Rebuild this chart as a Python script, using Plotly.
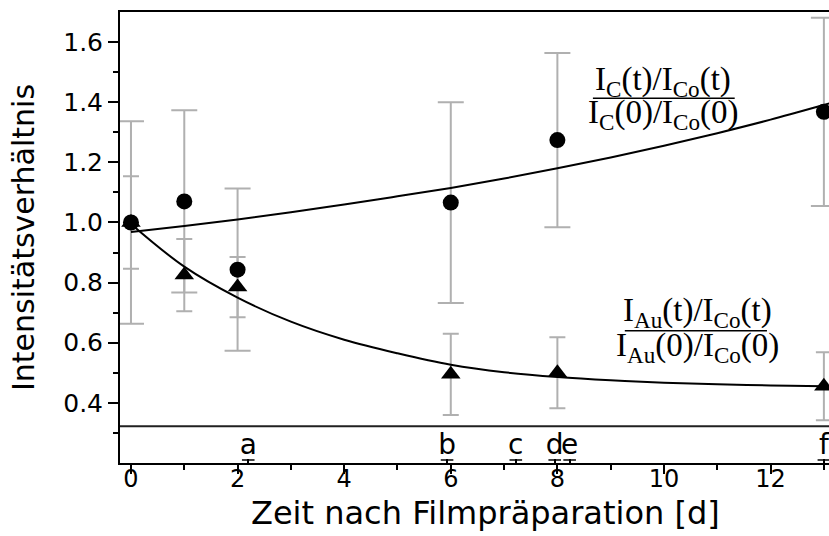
import plotly.graph_objects as go

# Measured intensity ratios (days after film preparation)
days = [0, 1, 2, 6, 8, 13]
ratio_c = [1.00, 1.07, 0.843, 1.066, 1.274, 1.368]
err_c = [0.337, 0.303, 0.27, 0.334, 0.29, 0.313]
ratio_au = [1.00, 0.825, 0.785, 0.495, 0.50, 0.455]
err_au = [0.154, 0.12, 0.10, 0.135, 0.118, 0.113]

# Fitted curves
fit_days = [0, 1, 2, 3, 4, 5, 6, 7, 8, 9, 10, 11, 12, 13, 13.1]
fit_c = [0.968, 0.988, 1.010, 1.034, 1.060, 1.087, 1.115, 1.146, 1.180,
         1.216, 1.255, 1.297, 1.342, 1.391, 1.396]
fit_au = [0.995, 0.853, 0.750, 0.670, 0.610, 0.565, 0.527, 0.502, 0.486,
          0.475, 0.467, 0.462, 0.458, 0.455, 0.455]

# Sample markers along the time axis
sample_days = [2.2, 5.93, 7.22, 7.95, 8.23, 13.0]
sample_labels = ["a", "b", "c", "d", "e", "f"]

x_ticks = [0, 2, 4, 6, 8, 10, 12]
y_ticks = [0.4, 0.6, 0.8, 1.0, 1.2, 1.4, 1.6]
x_range = [-0.206, 13.096]
y_range = [0.2, 1.7]
separator_y = 0.322

x_title = "Zeit nach Filmpräparation [d]"
y_title = "Intensitätsverhältnis"

SANS = "DejaVu Sans"
SERIF = "Liberation Serif"
ERR_COLOR = "#b0b0b0"

fig = go.Figure()

# error bars (drawn underneath everything else)
fig.add_trace(go.Scatter(
    x=days, y=ratio_c, mode="markers",
    marker=dict(size=1, color="rgba(0,0,0,0)"),
    error_y=dict(type="data", array=err_c, color=ERR_COLOR, thickness=2, width=13),
    hoverinfo="skip"))
fig.add_trace(go.Scatter(
    x=days, y=ratio_au, mode="markers",
    marker=dict(size=1, color="rgba(0,0,0,0)"),
    error_y=dict(type="data", array=err_au, color=ERR_COLOR, thickness=2, width=8),
    hoverinfo="skip"))

# fit curves
fig.add_trace(go.Scatter(x=fit_days, y=fit_c, mode="lines",
                         line=dict(color="black", width=2, shape="spline")))
fig.add_trace(go.Scatter(x=fit_days, y=fit_au, mode="lines",
                         line=dict(color="black", width=2, shape="spline")))

# data markers
fig.add_trace(go.Scatter(x=days, y=ratio_c, mode="markers",
                         marker=dict(symbol="circle", size=16, color="black")))
fig.add_trace(go.Scatter(x=days, y=ratio_au, mode="markers",
                         marker=dict(symbol="triangle-up", size=17, color="black")))

# sample letters with small bars just above the time axis
bar_y = y_range[0] + 0.01
letter_y = y_range[0] + 0.052
fig.add_trace(go.Scatter(
    x=sample_days, y=[bar_y] * len(sample_days), mode="markers",
    marker=dict(symbol="line-ew", size=9, line=dict(color="black", width=1.5)),
    xaxis="x2"))
fig.add_trace(go.Scatter(
    x=sample_days, y=[letter_y] * len(sample_days), mode="text",
    text=sample_labels, textposition="middle center",
    textfont=dict(family=SANS, size=28, color="black"),
    xaxis="x2"))

fig.add_shape(type="line", xref="paper", yref="y", x0=0, x1=1,
              y0=separator_y, y1=separator_y, line=dict(color="#202020", width=2))

# fraction labels
def fraction(num, den, xc, y_num, y_den, x0, x1, y_bar):
    for txt, yy in ((num, y_num), (den, y_den)):
        fig.add_annotation(text=txt, xref="paper", yref="paper", x=xc, y=yy,
                           xanchor="center", yanchor="middle", showarrow=False,
                           font=dict(family=SERIF, size=33, color="black"))
    fig.add_shape(type="line", xref="paper", yref="paper", x0=x0, x1=x1,
                  y0=y_bar, y1=y_bar, line=dict(color="black", width=1.5))

fraction("I<sub>C</sub>(t)/I<sub>Co</sub>(t)", "I<sub>C</sub>(0)/I<sub>Co</sub>(0)",
         0.766, 0.845, 0.772, 0.667, 0.867, 0.809)
fraction("I<sub>Au</sub>(t)/I<sub>Co</sub>(t)", "I<sub>Au</sub>(0)/I<sub>Co</sub>(0)",
         0.814, 0.333, 0.255, 0.712, 0.9125, 0.293)

# x-axis title, set snugly below the tick labels
fig.add_annotation(text=x_title, xref="paper", yref="paper", x=0.516, y=-0.11,
                   xanchor="center", yanchor="middle", showarrow=False,
                   font=dict(family=SANS, size=32, color="black"))

fig.update_layout(
    width=829, height=536,
    margin=dict(l=120, r=0, t=12, b=73),
    paper_bgcolor="white", plot_bgcolor="white",
    showlegend=False,
    font=dict(family=SANS, color="black"),
    xaxis=dict(
        range=x_range, tickvals=x_ticks, ticks="outside", ticklen=9, tickwidth=2,
        tickcolor="black", showline=True, linecolor="black", linewidth=2,
        mirror=True, showgrid=False, zeroline=False,
        tickfont=dict(family=SANS, size=24), ticklabelstandoff=-16,
        minor=dict(tickvals=[1, 3, 5, 7, 9, 11, 13], ticks="outside", ticklen=5,
                   tickwidth=2, tickcolor="black"),
    ),
    xaxis2=dict(
        range=x_range, overlaying="x", anchor="y", side="bottom",
        tickvals=sample_days, ticks="inside", ticklen=4, tickwidth=1.5,
        tickcolor="black", showticklabels=False, showline=False,
        showgrid=False, zeroline=False,
    ),
    yaxis=dict(
        range=y_range, tickvals=y_ticks, tickformat=".1f", ticks="outside",
        ticklen=10, tickwidth=2, tickcolor="black", showline=True,
        linecolor="black", linewidth=2, mirror=False, showgrid=False,
        zeroline=False, tickfont=dict(family=SANS, size=25),
        minor=dict(tickvals=[0.3, 0.5, 0.7, 0.9, 1.1, 1.3, 1.5], ticks="outside",
                   ticklen=5, tickwidth=2, tickcolor="black"),
        title=dict(text=y_title, font=dict(family=SANS, size=30), standoff=20),
    ),
)

fig.write_html("out.html")
